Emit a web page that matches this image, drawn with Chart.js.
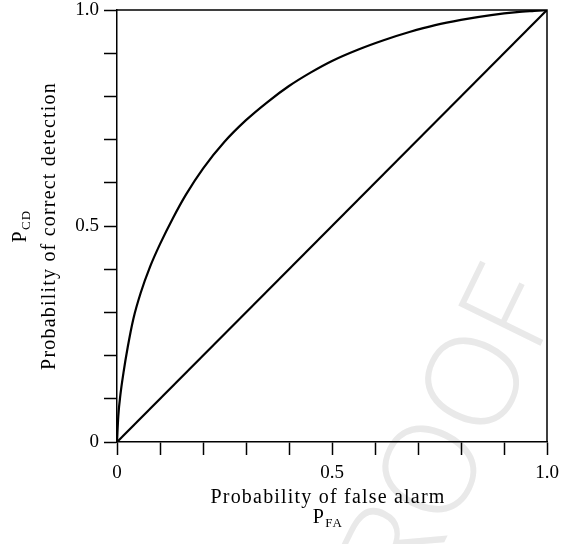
<!DOCTYPE html>
<html>
<head>
<meta charset="utf-8">
<script src="https://cdn.jsdelivr.net/npm/chart.js@4.4.1/dist/chart.umd.min.js"></script>
<style>
  html, body { margin: 0; padding: 0; background: #fff; }
  canvas { display: block; }
</style>
</head>
<body>
<canvas id="chart" width="563" height="544"></canvas>
<script>
// ROC curve
const pfa = [0, 0.003, 0.008, 0.015, 0.025, 0.038, 0.055, 0.077, 0.10, 0.13, 0.16, 0.20, 0.25, 0.30, 0.35, 0.40, 0.45, 0.50, 0.56, 0.62, 0.68, 0.74, 0.80, 0.87, 0.93, 0.97, 1.0];
const pcd = [0, 0.06, 0.11, 0.16, 0.22, 0.285, 0.345, 0.406, 0.458, 0.518, 0.572, 0.633, 0.695, 0.745, 0.787, 0.824, 0.855, 0.882, 0.908, 0.930, 0.949, 0.965, 0.977, 0.988, 0.995, 0.998, 1.0];

// chance diagonal
const chanceX = [0, 1];
const chanceY = [0, 1];

const tickValues = [0, 0.5, 1];
const tickLabels = ['0', '0.5', '1.0'];

const xTitle = 'Probability of false alarm';
const yTitle = 'Probability of correct detection';
const xSymbol = ['P', 'FA'];
const ySymbol = ['P', 'CD'];
const watermark = 'PROOF';

const serif = "'Liberation Serif', 'Times New Roman', serif";

function tickText(v) {
  const i = tickValues.findIndex(t => Math.abs(t - v) < 1e-9);
  return i >= 0 ? tickLabels[i] : '';
}

function drawSub(c, main, sub, cx, baseline) {
  c.font = '20px ' + serif;
  const w1 = c.measureText(main).width;
  c.font = '13px ' + serif;
  const w2 = c.measureText(sub).width;
  const x = cx - (w1 + w2) / 2;
  c.textAlign = 'left';
  c.textBaseline = 'alphabetic';
  c.font = '20px ' + serif;
  c.fillText(main, x, baseline);
  c.font = '13px ' + serif;
  c.fillText(sub, x + w1, baseline + 4);
}

const decorations = {
  id: 'decorations',
  beforeDraw(chart) {
    const c = chart.ctx;
    c.save();
    c.translate(440, 468);
    c.rotate(-64 * Math.PI / 180);
    c.font = "300 128px 'Open Sans'";
    c.fillStyle = '#e9e9e9';
    c.textAlign = 'center';
    c.textBaseline = 'middle';
    c.fillText(watermark, 0, 0);
    c.restore();
  },
  afterDraw(chart) {
    const c = chart.ctx;
    const a = chart.chartArea;
    c.save();
    // top and right sides of the box
    c.strokeStyle = '#000';
    c.lineWidth = 1.5;
    c.beginPath();
    c.moveTo(a.left, a.top);
    c.lineTo(a.right, a.top);
    c.lineTo(a.right, a.bottom);
    c.stroke();

    c.fillStyle = '#000';
    c.letterSpacing = '1.2px';
    c.font = '20px ' + serif;
    c.textAlign = 'center';
    c.textBaseline = 'alphabetic';
    c.fillText(xTitle, 328, 503);
    drawSub(c, xSymbol[0], xSymbol[1], 328, 523);

    c.translate(55, 226);
    c.rotate(-Math.PI / 2);
    c.font = '20px ' + serif;
    c.textAlign = 'center';
    c.fillText(yTitle, 0, 0);
    c.rotate(Math.PI / 2);
    c.translate(-29, 0);
    c.rotate(-Math.PI / 2);
    drawSub(c, ySymbol[0], ySymbol[1], 0, 0);
    c.restore();
  }
};

const axisCommon = {
  type: 'linear',
  min: 0,
  max: 1,
  grid: {
    drawOnChartArea: false,
    drawTicks: true,
    tickLength: 13,
    tickWidth: 1.5,
    tickColor: '#000'
  },
  border: { display: true, color: '#000', width: 1.5 },
  ticks: {
    stepSize: 0.1,
    autoSkip: false,
    maxRotation: 0,
    color: '#000',
    font: { family: serif, size: 19 },
    callback: v => tickText(v)
  }
};

new Chart(document.getElementById('chart').getContext('2d'), {
  type: 'line',
  data: {
    datasets: [
      {
        data: pfa.map((x, i) => ({ x: x, y: pcd[i] })),
        borderColor: '#000',
        borderWidth: 2.2,
        pointRadius: 0,
        cubicInterpolationMode: 'monotone',
        fill: false
      },
      {
        data: chanceX.map((x, i) => ({ x: x, y: chanceY[i] })),
        borderColor: '#000',
        borderWidth: 2.2,
        pointRadius: 0,
        tension: 0,
        fill: false
      }
    ]
  },
  options: {
    responsive: false,
    animation: false,
    layout: { padding: { top: 10, right: 16, left: 0, bottom: 0 } },
    plugins: {
      legend: { display: false },
      tooltip: { enabled: false }
    },
    scales: {
      x: Object.assign({}, axisCommon, {
        ticks: Object.assign({}, axisCommon.ticks, { padding: 7 }),
        afterFit: s => {
          s.height = 102;
          s.paddingLeft = 0;
          s.paddingRight = 0;
        }
      }),
      y: Object.assign({}, axisCommon, {
        ticks: Object.assign({}, axisCommon.ticks, { padding: 5 }),
        afterFit: s => {
          s.width = 117;
          s.paddingTop = 0;
          s.paddingBottom = 0;
        }
      })
    }
  },
  plugins: [decorations]
});
</script>
</body>
</html>
